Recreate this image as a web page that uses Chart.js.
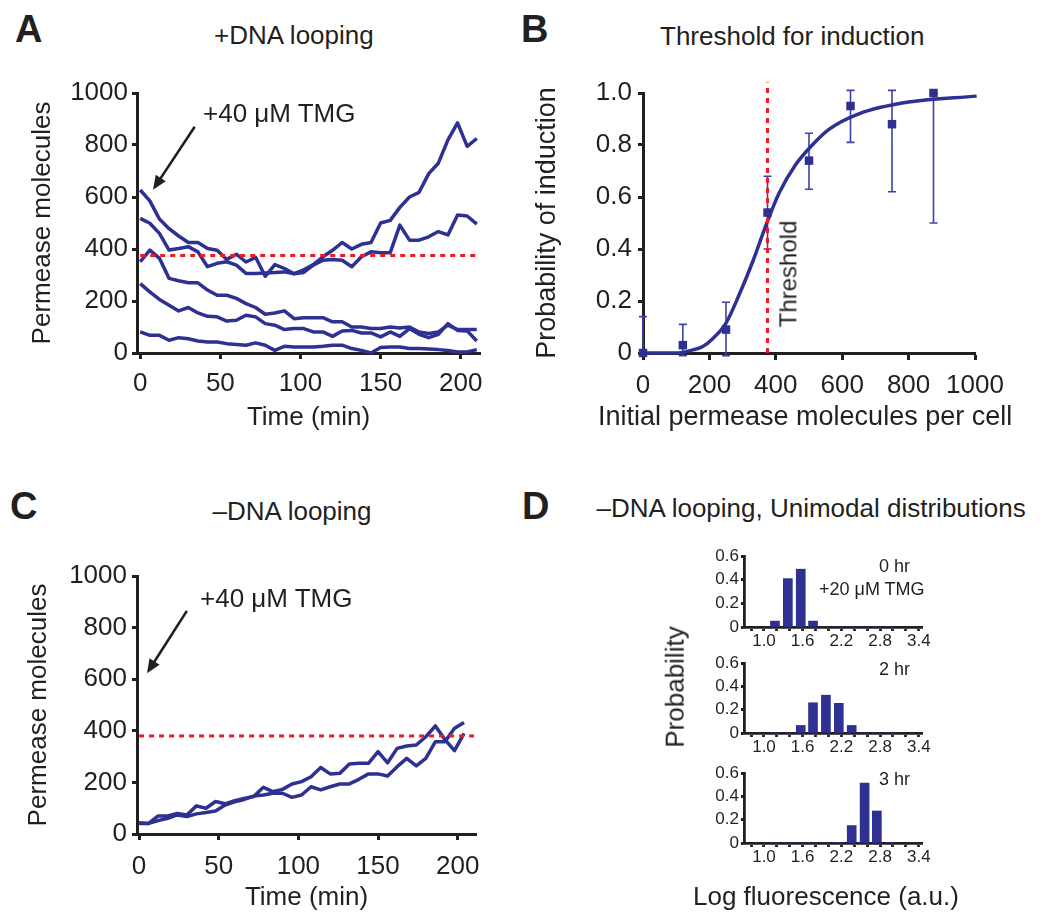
<!DOCTYPE html>
<html>
<head>
<meta charset="utf-8">
<script src="https://cdn.jsdelivr.net/npm/chart.js@4.4.1/dist/chart.umd.min.js"></script>
<style>
  body { margin: 0; background: #fff; width: 1050px; height: 921px; position: relative; overflow: hidden;
         font-family: 'Liberation Sans', Arial, sans-serif; color: #231f20; }
  canvas { position: absolute; }
  .t { position: absolute; white-space: nowrap; line-height: 1; }
</style>
</head>
<body>
<canvas id="cA" width="520" height="380" style="left:0;top:60px"></canvas>
<canvas id="cB" width="530" height="380" style="left:520px;top:60px"></canvas>
<canvas id="cC" width="520" height="381" style="left:0;top:540px"></canvas>
<canvas id="cH0" width="300" height="109" style="left:640px;top:544px"></canvas>
<canvas id="cH2" width="300" height="108" style="left:640px;top:651px"></canvas>
<canvas id="cH3" width="300" height="108" style="left:640px;top:761px"></canvas>
<script>
// ---- data ----

// A: +DNA looping, five cells, permease vs time
const timeA = [0,6,12,18,24,30,36,42,48,54,60,66,72,78,84,90,96,102,108,114,120,126,132,138,144,150,156,162,168,174,180,186,192,198,204,210];
const cellA1 = [627,585,515,478,450,425,425,402,395,360,380,350,368,295,340,325,305,320,340,370,395,425,400,418,425,500,510,560,600,618,690,730,820,885,795,825];
const cellA2 = [518,499,460,396,402,409,389,332,345,351,338,306,306,308,310,312,305,310,338,357,360,357,332,370,389,386,386,492,434,434,447,467,454,531,527,496];
const cellA3 = [351,396,364,287,278,270,270,242,222,222,210,190,175,149,154,162,132,136,136,136,120,120,100,100,94,94,100,96,100,81,75,81,107,90,90,90];
const cellA4 = [267,235,206,184,162,175,154,141,139,123,126,145,139,113,107,90,94,94,81,81,64,85,87,77,77,62,81,64,94,72,59,72,113,87,85,46];
const cellA5 = [81,68,68,49,59,55,46,42,42,36,33,30,39,30,10,26,23,23,23,26,30,30,17,10,0,21,23,23,17,17,15,13,10,4,4,13];
const thresholdA = 375;

// C: -DNA looping, two cells
const timeC = [0,6,12,18,24,30,36,42,48,54,60,66,72,78,84,90,96,102,108,114,120,126,132,138,144,150,156,162,168,174,180,186,192,198,204];
const cellC1 = [44,41,70,70,80,74,109,100,126,117,129,138,145,181,164,173,194,203,222,258,233,235,271,274,274,319,276,332,341,345,377,419,366,323,390];
const cellC2 = [41,41,52,61,74,68,78,83,89,112,125,134,147,151,158,158,142,151,183,171,183,194,194,212,233,233,225,261,293,264,293,358,358,410,432];
const thresholdC = 380;

// B: threshold for induction
const initialPermease = [0,120,250,375,500,625,750,875];
const probInduction   = [0,0.03,0.09,0.54,0.74,0.95,0.88,1.0];
const probLow         = [0,-0.01,-0.01,0.40,0.63,0.81,0.62,0.50];
const probHigh        = [0.14,0.11,0.195,0.68,0.845,1.01,1.01,1.0];
const fitX = [0,100,150,180,210,250,290,330,370,410,460,510,560,650,800,1005];
const fitY = [0,0,0.012,0.025,0.055,0.115,0.225,0.35,0.49,0.615,0.725,0.80,0.86,0.92,0.965,0.988];
const thresholdB = 375;

// D: histograms of log fluorescence
const logBins = [1.17,1.37,1.57,1.76,1.96,2.16,2.36,2.56,2.75,2.95];
const hist0hr = [0.05,0.41,0.49,0.05,0,0,0,0,0,0];
const hist2hr = [0,0,0.065,0.26,0.325,0.255,0.065,0,0,0];
const hist3hr = [0,0,0,0,0,0.005,0.15,0.515,0.275,0.005];

// tick values / labels
const timeTicks = [0,50,100,150,200];
const permeaseTicks = [0,200,400,600,800,1000];
const initTicks = [0,200,400,600,800,1000];
const probTicks = [0,0.2,0.4,0.6,0.8,1.0];
const histXTicks = [0.8,1.0,1.2,1.4,1.6,1.8,2.0,2.2,2.4,2.6,2.8,3.0,3.2,3.4];
const histXLabels = ['1.0','1.6','2.2','2.8','3.4'];
const histYTicks = [0,0.2,0.4,0.6];

// ---- styling ----
const BLUE = '#2e3192', RED = '#ed1c24', INK = '#231f20';
const FONT = "'Liberation Sans', Arial, sans-serif";
Chart.defaults.font.family = FONT;
Chart.defaults.color = INK;

const pts = (xs, ys) => xs.map((x, i) => ({x: x, y: ys[i]}));
const dec = v => v === 0 ? '0' : v.toFixed(1);

function scale(o) {
  return {
    type: 'linear', min: o.min, max: o.max, offset: false,
    afterBuildTicks: s => { s.ticks = o.ticks.map(v => ({value: v})); },
    afterFit: s => { if (o.width != null) s.width = o.width; if (o.height != null) s.height = o.height; },
    border: {display: true, color: INK, width: o.lw || 3},
    grid: {drawOnChartArea: false, drawTicks: true, offset: false, tickLength: o.tl, tickWidth: o.lw || 3, tickColor: INK},
    ticks: {font: {size: o.fs}, padding: o.pad, color: INK, maxRotation: 0, autoSkip: false,
            callback: o.fmt || (v => String(v))},
    title: o.title ? {display: true, text: o.title, color: INK, font: {size: o.tfs || 26}, padding: o.tpad} : {display: false}
  };
}

function line(data, color, width, dash) {
  return {data: data, showLine: true, borderColor: color, borderWidth: width, borderDash: dash || [],
          pointRadius: 0, tension: 0, clip: false, borderJoinStyle: 'round'};
}

// arrow annotation, placed in data units
const arrowPlugin = {
  id: 'arrow',
  afterDatasetsDraw(chart, args, o) {
    if (!o || !o.from) return;
    const sx = chart.scales.x, sy = chart.scales.y, ctx = chart.ctx;
    const x1 = sx.getPixelForValue(o.from[0]), y1 = sy.getPixelForValue(o.from[1]);
    const x2 = sx.getPixelForValue(o.to[0]), y2 = sy.getPixelForValue(o.to[1]);
    const a = Math.atan2(y2 - y1, x2 - x1), L = 14, W = 6;
    ctx.save();
    ctx.strokeStyle = INK; ctx.fillStyle = INK; ctx.lineWidth = 2.6;
    ctx.beginPath();
    ctx.moveTo(x1, y1);
    ctx.lineTo(x2 - Math.cos(a) * L * 0.8, y2 - Math.sin(a) * L * 0.8);
    ctx.stroke();
    ctx.beginPath();
    ctx.moveTo(x2, y2);
    ctx.lineTo(x2 - L * Math.cos(a) + W * Math.sin(a), y2 - L * Math.sin(a) - W * Math.cos(a));
    ctx.lineTo(x2 - L * Math.cos(a) - W * Math.sin(a), y2 - L * Math.sin(a) + W * Math.cos(a));
    ctx.closePath();
    ctx.fill();
    ctx.restore();
  }
};

// vertical error bars for panel B
const errPlugin = {
  id: 'errbars',
  beforeDatasetsDraw(chart, args, o) {
    if (!o || !o.x) return;
    const sx = chart.scales.x, sy = chart.scales.y, ctx = chart.ctx;
    ctx.save();
    ctx.strokeStyle = '#3c41a8'; ctx.lineWidth = 1.6;
    o.x.forEach((v, i) => {
      const px = sx.getPixelForValue(v);
      const top = sy.getPixelForValue(o.hi[i]), bot = sy.getPixelForValue(o.lo[i]);
      ctx.beginPath();
      ctx.moveTo(px, top); ctx.lineTo(px, bot);
      ctx.moveTo(px - 4, top); ctx.lineTo(px + 4, top);
      ctx.moveTo(px - 4, bot); ctx.lineTo(px + 4, bot);
      ctx.stroke();
    });
    ctx.restore();
  }
};

function opts(pad, xs, ys, extra) {
  return {
    responsive: false, animation: false, events: [],
    layout: {padding: pad},
    plugins: Object.assign({legend: {display: false}, tooltip: {enabled: false}}, extra || {}),
    scales: {x: xs, y: ys}
  };
}

// ---- A ----
new Chart(document.getElementById('cA'), {
  type: 'scatter',
  data: {datasets: [
    line([{x: 0, y: thresholdA}, {x: 212, y: thresholdA}], RED, 3, [5, 5]),
    line(pts(timeA, cellA1), BLUE, 3.5),
    line(pts(timeA, cellA2), BLUE, 3.5),
    line(pts(timeA, cellA3), BLUE, 3.5),
    line(pts(timeA, cellA4), BLUE, 3.5),
    line(pts(timeA, cellA5), BLUE, 3.5)
  ]},
  options: opts({top: 33, right: 40, left: 0, bottom: 0},
    scale({min: -2, max: 212, ticks: timeTicks, height: 87, tl: 6, pad: 9, fs: 26,
           title: 'Time (min)', tpad: {top: 0, bottom: 7}}),
    scale({min: 0, max: 1000, ticks: permeaseTicks, width: 137, tl: 5, pad: 4, fs: 26,
           title: 'Permease molecules', tpad: {top: 27, bottom: 0}}),
    {arrow: {from: [34, 870], to: [8, 628]}}),
  plugins: [arrowPlugin]
});

// ---- B ----
new Chart(document.getElementById('cB'), {
  type: 'scatter',
  data: {datasets: [
    {data: pts(initialPermease, probInduction), pointStyle: 'rect', pointRadius: 6,
     pointBackgroundColor: BLUE, pointBorderWidth: 0, showLine: false, clip: false},
    line([{x: thresholdB, y: 0}, {x: thresholdB, y: 1.04}], RED, 3, [5, 5]),
    Object.assign(line(pts(fitX, fitY), BLUE, 3.5), {tension: 0.4, cubicInterpolationMode: 'monotone'})
  ]},
  options: opts({top: 33, right: 75, left: 0, bottom: 0},
    scale({min: 0, max: 1000, ticks: initTicks, height: 87, tl: 7, pad: 10, fs: 26}),
    scale({min: 0, max: 1, ticks: probTicks, width: 123, tl: 5, pad: 6, fs: 26, fmt: dec,
           title: 'Probability of induction', tfs: 27, tpad: {top: 11, bottom: 0}}),
    {errbars: {x: initialPermease, lo: probLow, hi: probHigh}}),
  plugins: [errPlugin]
});

// ---- C ----
new Chart(document.getElementById('cC'), {
  type: 'scatter',
  data: {datasets: [
    line([{x: 0, y: thresholdC}, {x: 211.5, y: thresholdC}], RED, 3, [5, 5]),
    line(pts(timeC, cellC1), BLUE, 3.5),
    line(pts(timeC, cellC2), BLUE, 3.5)
  ]},
  options: opts({top: 36, right: 44, left: 0, bottom: 0},
    scale({min: -1.3, max: 211.5, ticks: timeTicks, height: 87, tl: 6, pad: 11, fs: 26,
           title: 'Time (min)', tpad: {top: 0, bottom: 8}}),
    scale({min: 0, max: 1000, ticks: permeaseTicks, width: 137, tl: 5, pad: 5, fs: 26,
           title: 'Permease molecules', tpad: {top: 23, bottom: 0}}),
    {arrow: {from: [30, 865], to: [5, 623]}}),
  plugins: [arrowPlugin]
});

// ---- D ----
function hist(id, values) {
  new Chart(document.getElementById(id), {
    type: 'bar',
    data: {datasets: [{data: pts(logBins, values), backgroundColor: BLUE, borderWidth: 0,
                       barThickness: 9, clip: false}]},
    options: opts({top: 12, right: 18, left: 0, bottom: 0},
      scale({min: 0.69, max: 3.45, ticks: histXTicks, height: 26, tl: 4, pad: 0, fs: 17, lw: 2.8,
             fmt: v => { const s = v.toFixed(1); return histXLabels.includes(s) ? s : ''; }}),
      scale({min: 0, max: 0.6, ticks: histYTicks, width: 104, tl: 3, pad: 2, fs: 17, lw: 2.8, fmt: dec}))
  });
}
hist('cH0', hist0hr);
hist('cH2', hist2hr);
hist('cH3', hist3hr);

// ---- text ----
function text(s, x, base, size, align, bold) {
  const d = document.createElement('div');
  d.className = 't';
  d.textContent = s;
  d.style.fontSize = size + 'px';
  if (bold) d.style.fontWeight = 'bold';
  d.style.top = (base - 0.8465 * size) + 'px';
  document.body.appendChild(d);
  const w = d.offsetWidth;
  d.style.left = (align === 'center' ? x - w / 2 : align === 'right' ? x - w : x) + 'px';
}
function vtext(s, cx, cy, size) {
  const d = document.createElement('div');
  d.className = 't';
  d.textContent = s;
  d.style.fontSize = size + 'px';
  document.body.appendChild(d);
  d.style.left = (cx - d.offsetWidth / 2) + 'px';
  d.style.top = (cy - d.offsetHeight / 2) + 'px';
  d.style.transform = 'rotate(-90deg)';
}

text('A', 15, 42, 38, 'left', true);
text('B', 521, 42, 38, 'left', true);
text('C', 10, 519, 38, 'left', true);
text('D', 522, 519, 38, 'left', true);
text('+DNA looping', 294, 44, 26, 'center');
text('Threshold for induction', 792, 45, 26, 'center');
text('\u2013DNA looping', 292, 520, 26, 'center');
text('\u2013DNA looping, Unimodal distributions', 811, 517, 26, 'center');
text('+40 \u03bcM TMG', 203, 122, 26, 'left');
text('+40 \u03bcM TMG', 200, 607, 26, 'left');
vtext('Threshold', 788, 274, 24);
text('Initial permease molecules per cell', 805, 426, 27, 'center');
text('0 hr', 879, 572, 18, 'left');
text('+20 \u03bcM TMG', 872, 595, 18, 'center');
text('2 hr', 879, 675, 18, 'left');
text('3 hr', 879, 785, 18, 'left');
vtext('Probability', 674, 687, 26);
text('Log fluorescence (a.u.)', 693, 905, 26, 'left');
</script>
</body>
</html>
